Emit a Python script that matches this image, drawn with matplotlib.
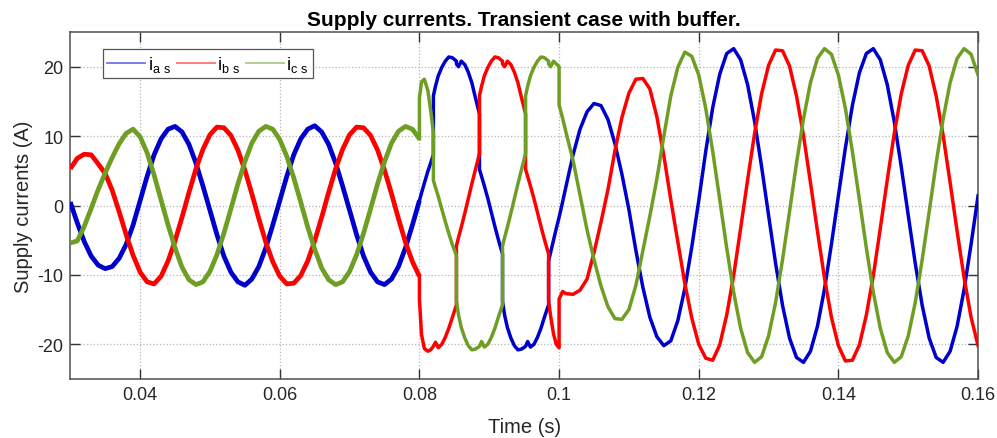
import matplotlib
matplotlib.use('Agg')
import matplotlib.pyplot as plt
from matplotlib.lines import Line2D

# ========== DATA ==========
# sample times in ms; a repeated time marks a commutation jump

TIME_MS = [
    30, 31, 32, 33, 34, 35, 36, 37, 38, 39,
    40, 41, 42, 43, 44, 45, 46, 47, 48, 49,
    50, 51, 52, 53, 54, 55, 56, 57, 58, 59,
    60, 61, 62, 63, 64, 65, 66, 67, 68, 69,
    70, 71, 72, 73, 74, 75, 76, 77, 78, 79,
    80.0, 80.0, 80.3, 80.7, 81.2, 81.6,
    82.0, 82.0, 82.3, 82.7, 83.2, 83.7, 84.2, 84.7,
    85.3, 85.3, 85.6, 86.0, 86.5, 87.0, 87.5, 88.0,
    88.6, 88.6, 88.9, 89.3, 89.8, 90.3, 90.8, 91.3,
    91.9, 91.9, 92.2, 92.6, 93.1, 93.6, 94.1, 94.6,
    95.2, 95.2, 95.5, 95.9, 96.4, 96.9, 97.4, 97.9,
    98.5, 98.5, 98.8, 99.2, 99.6,
    100.0, 100.0, 100.5,
    101, 102, 103, 104, 105, 106, 107, 108, 109, 110,
    111, 112, 113, 114, 115, 116, 117, 118, 119, 120,
    121, 122, 123, 124, 125, 126, 127, 128, 129, 130,
    131, 132, 133, 134, 135, 136, 137, 138, 139, 140,
    141, 142, 143, 144, 145, 146, 147, 148, 149, 150,
    151, 152, 153, 154, 155, 156, 157, 158, 159, 160,
]

I_AS = [
    0.5, -2.5, -5.2, -7.3, -8.6, -9.1, -8.8, -7.6, -5.6, -2.8,
    0.7, 4.2, 7.3, 9.6, 11.0, 11.4, 10.6, 8.8, 6.1, 2.8,
    -0.7, -4.2, -7.3, -9.6, -11.0, -11.5, -10.6, -8.8, -6.1, -2.8,
    0.7, 4.2, 7.3, 9.6, 11.0, 11.5, 10.6, 8.8, 6.1, 2.8,
    -0.7, -4.2, -7.3, -9.6, -11.0, -11.4, -10.6, -8.8, -6.1, -2.8,
    0.7, 0.7, 1.8, 3.2, 4.9, 6.1,
    7.3, 15.8, 17.2, 18.7, 19.9, 20.8, 21.4, 21.3,
    20.8, 20.4, 20.0, 20.8, 20.3, 19.2, 17.7, 15.6,
    13.2, 5.2, 4.2, 2.8, 1.0, -1.0, -3.0, -4.9,
    -7.0, -13.8, -15.8, -17.6, -19.1, -20.2, -20.8, -20.7,
    -20.3, -20.3, -19.6, -20.4, -20.0, -19.0, -17.7, -16.1,
    -14.3, -8.0, -6.7, -5.0, -3.3,
    -1.7, -1.7, 0.5,
    2.8, 7.3, 11.0, 13.5, 14.7, 14.4, 12.4, 8.9, 4.5, -0.6,
    -6.5, -11.8, -16.1, -18.9, -20.2, -19.5, -16.6, -12.0, -6.0, 0.7,
    7.8, 14.1, 18.9, 21.9, 22.6, 21.0, 17.4, 12.1, 5.6, -1.4,
    -8.3, -14.4, -19.1, -21.9, -22.6, -21.0, -17.4, -12.1, -5.6, 1.4,
    8.3, 14.4, 19.1, 21.9, 22.6, 21.0, 17.4, 12.1, 5.6, -1.4,
    -8.3, -14.4, -19.1, -21.9, -22.6, -21.0, -17.4, -12.1, -5.6, 1.4,
]

I_BS = [
    5.3, 6.8, 7.4, 7.3, 6.0, 4.6, 2.2, -0.9, -4.2, -7.2,
    -9.6, -11.0, -11.3, -10.2, -8.0, -5.1, -1.7, 1.9, 5.3, 8.1,
    10.2, 11.3, 11.2, 10.1, 8.0, 5.1, 1.7, -1.9, -5.3, -8.1,
    -10.2, -11.3, -11.2, -10.1, -8.0, -5.1, -1.7, 1.9, 5.3, 8.1,
    10.2, 11.3, 11.2, 10.1, 8.0, 5.1, 1.7, -1.9, -5.3, -8.1,
    -10.2, -13.5, -18.6, -20.6, -21.0, -20.8,
    -20.3, -20.3, -19.7, -20.5, -20.0, -19.0, -17.7, -16.2,
    -14.3, -5.8, -4.6, -3.1, -1.1, 1.0, 3.1, 5.1,
    7.5, 15.8, 17.2, 18.7, 19.9, 20.8, 21.4, 21.3,
    20.8, 20.4, 20.0, 20.8, 20.3, 19.2, 17.7, 15.6,
    13.2, 5.2, 4.2, 2.8, 1.0, -1.0, -3.0, -4.9,
    -7.0, -13.8, -16.0, -18.5, -20.0,
    -20.5, -13.5, -12.4,
    -12.7, -12.8, -12.2, -10.6, -6.8, -2.4, 2.3, 7.9, 12.7, 16.2,
    18.2, 18.3, 16.8, 12.8, 7.2, 0.8, -5.2, -11.2, -16.2, -20.0,
    -22.0, -22.3, -20.1, -15.8, -10.1, -3.3, 3.7, 10.4, 16.1, 20.2,
    22.4, 22.3, 20.1, 15.8, 10.1, 3.3, -3.7, -10.4, -16.1, -20.2,
    -22.4, -22.3, -20.1, -15.8, -10.1, -3.3, 3.7, 10.4, 16.1, 20.2,
    22.4, 22.3, 20.1, 15.8, 10.1, 3.3, -3.7, -10.4, -16.1, -20.2,
]

I_CS = [
    -5.4, -5.1, -3.0, -0.4, 2.3, 4.7, 6.9, 8.9, 10.4, 11.0,
    9.9, 7.6, 4.4, 0.8, -2.8, -6.1, -8.9, -10.7, -11.4, -11.0,
    -9.5, -7.1, -4.0, -0.5, 3.1, 6.3, 9.0, 10.7, 11.4, 11.0,
    9.5, 7.1, 4.0, 0.5, -3.1, -6.3, -9.0, -10.7, -11.4, -11.0,
    -9.5, -7.1, -4.0, -0.5, 3.1, 6.3, 9.0, 10.7, 11.4, 11.0,
    9.6, 15.5, 17.8, 18.2, 16.6, 13.8,
    10.5, 3.6, 2.6, 1.3, -0.5, -2.3, -4.0, -5.6,
    -7.2, -13.8, -15.8, -17.6, -19.1, -20.2, -20.8, -20.7,
    -20.3, -20.3, -19.6, -20.4, -20.0, -19.0, -17.7, -16.1,
    -14.3, -5.8, -4.6, -3.1, -1.1, 1.0, 3.1, 5.1,
    7.5, 15.8, 17.2, 18.7, 19.9, 20.8, 21.4, 21.3,
    20.8, 20.4, 20.0, 20.8, 20.4,
    20.0, 14.5, 12.6,
    10.5, 6.5, 1.5, -3.5, -7.8, -11.6, -14.6, -16.3, -16.4, -15.0,
    -11.5, -6.5, -1.5, 3.8, 10.0, 15.8, 19.9, 22.1, 21.5, 18.8,
    14.0, 7.8, 0.9, -6.1, -12.5, -17.7, -21.2, -22.6, -21.8, -18.8,
    -14.0, -7.8, -0.9, 6.1, 12.5, 17.7, 21.2, 22.6, 21.8, 18.8,
    14.0, 7.8, 0.9, -6.1, -12.5, -17.7, -21.2, -22.6, -21.8, -18.8,
    -14.0, -7.8, -0.9, 6.1, 12.5, 17.7, 21.2, 22.6, 21.8, 18.8,
]

SERIES = {
    'i$_{a\\ s}$': I_AS,
    'i$_{b\\ s}$': I_BS,
    'i$_{c\\ s}$': I_CS,
}
COLORS = ['#0000CC', '#FF0000', '#6E9E24']

X_TICKS = [0.04, 0.06, 0.08, 0.1, 0.12, 0.14, 0.16]
X_TICK_LABELS = ['0.04', '0.06', '0.08', '0.1', '0.12', '0.14', '0.16']
Y_TICKS = [-20, -10, 0, 10, 20]

# ========== PLOT ==========

plt.rcParams['font.family'] = ['Liberation Sans', 'DejaVu Sans']
plt.rcParams['mathtext.default'] = 'regular'
plt.rcParams['axes.unicode_minus'] = False

fig = plt.figure(figsize=(9.97, 4.39), dpi=100)
ax = fig.add_axes([0.0705, 0.1344, 0.9105, 0.7904])

t = [v / 1000.0 for v in TIME_MS]
split = TIME_MS.index(80.0)  # switching ripple is thicker before the transient

handles = []
for (label, vals), color in zip(SERIES.items(), COLORS):
    ax.plot(t[:split + 1], vals[:split + 1], color=color, lw=3.4,
            solid_joinstyle='round', solid_capstyle='butt', zorder=3)
    ax.plot(t[split:], vals[split:], color=color, lw=2.5,
            solid_joinstyle='round', zorder=3)
    handles.append(Line2D([0], [0], color=color, lw=1.3, alpha=0.55, label=label))

ax.set_xlim(0.03, 0.16)
ax.set_ylim(-25, 25)
ax.set_xticks(X_TICKS)
ax.set_xticklabels(X_TICK_LABELS)
ax.set_yticks(Y_TICKS)

ax.grid(True, linestyle=':', color='#b5b5b5', linewidth=0.9, zorder=0)
ax.tick_params(direction='in', length=7, width=1.0, top=True, right=True,
               colors='#333333', labelcolor='#262626', labelsize=13, pad=5)
for sp in ax.spines.values():
    sp.set_color('#505050')
    sp.set_linewidth(1.1)

ax.set_xlabel('Time (s)', fontsize=14.5, color='#262626', labelpad=10)
ax.set_ylabel('Supply currents (A)', fontsize=14.5, color='#262626', labelpad=3)
ax.set_title('Supply currents. Transient case with buffer.', fontsize=15, fontweight='bold',
             family=['Liberation Sans Narrow', 'Liberation Sans'], pad=5)

leg = ax.legend(handles=handles, loc='upper left', bbox_to_anchor=(0.036, 0.95), ncol=3,
                fontsize=13, handlelength=2.1, handletextpad=0.15, columnspacing=0.3,
                borderpad=0.25, borderaxespad=0, fancybox=False, framealpha=1)
leg.get_frame().set_edgecolor('#555555')
leg.get_frame().set_linewidth(0.9)

fig.savefig('out.png', dpi=100)
